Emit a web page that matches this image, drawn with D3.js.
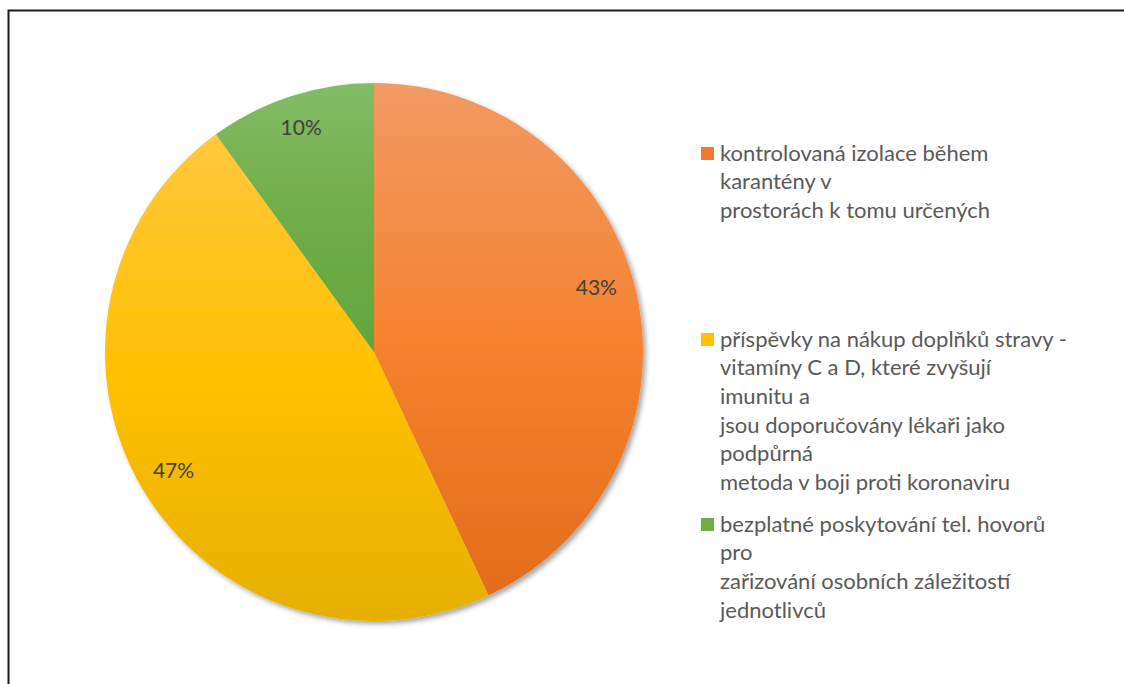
<!DOCTYPE html>
<html>
<head>
<meta charset="utf-8">
<script src="https://cdn.jsdelivr.net/npm/d3@7"></script>
<style>
  html, body { margin: 0; padding: 0; background: #fff; }
  svg { display: block; }
</style>
</head>
<body>
<svg id="chart" width="1124" height="684"></svg>
<script>
// ---------- data ----------
const categories = [
  "kontrolovaná izolace během\nkarantény v\nprostorách k tomu určených",
  "příspěvky na nákup doplňků stravy -\nvitamíny C a D, které zvyšují\nimunitu a\njsou doporučovány lékaři jako\npodpůrná\nmetoda v boji proti koronaviru",
  "bezplatné poskytování tel. hovorů\npro\nzařizování osobních záležitostí\njednotlivců"
];
const values = [43, 47, 10];
const labels = ["43%", "47%", "10%"];

// gradient stops per slice (top -> bottom)
const gradTop = ["#F29A64", "#FFC83D", "#82BC66"];
const gradMid = ["#F5822F", "#FFC000", "#70AD47"];
const gradBot = ["#E36C1A", "#E6B000", "#63A53C"];
const swatch = ["#F07B2E", "#FFC000", "#70AD47"];

const svg = d3.select("#chart");
const defs = svg.append("defs");

const shadow = defs.append("filter").attr("id", "shadow")
  .attr("x", "-10%").attr("y", "-10%").attr("width", "120%").attr("height", "120%");
shadow.append("feDropShadow")
  .attr("dx", 3).attr("dy", 3).attr("stdDeviation", 2.5)
  .attr("flood-color", "#000").attr("flood-opacity", 0.35);

values.forEach((v, i) => {
  const g = defs.append("linearGradient").attr("id", "grad" + i)
    .attr("x1", 0).attr("y1", 0).attr("x2", 0).attr("y2", 1);
  g.append("stop").attr("offset", "0%").attr("stop-color", gradTop[i]);
  g.append("stop").attr("offset", "50%").attr("stop-color", gradMid[i]);
  g.append("stop").attr("offset", "100%").attr("stop-color", gradBot[i]);
});

// frame (only top & left visible in the crop)
svg.append("path")
  .attr("d", "M8.5,700 L8.5,10.5 L1130,10.5")
  .attr("fill", "none")
  .attr("stroke", "#1a1a1a")
  .attr("stroke-width", 2);

// ---------- pie ----------
const cx = 374, cy = 352, r = 269;
const pie = d3.pie().sort(null).value(d => d);
const arcs = pie(values);
const arc = d3.arc().innerRadius(0).outerRadius(r);

const pieG = svg.append("g").attr("transform", `translate(${cx},${cy})`);
pieG.append("g").attr("filter", "url(#shadow)")
  .selectAll("path")
  .data(arcs)
  .enter()
  .append("path")
  .attr("d", arc)
  .attr("fill", (d, i) => `url(#grad${i})`);

// data labels (best-fit style, inside near the rim)
const labelR = [0.86, 0.866, 0.876];
const labelShift = [-0.06, 0, 0]; // small angular nudge, radians
pieG.selectAll("text.lbl")
  .data(arcs)
  .enter()
  .append("text")
  .attr("class", "lbl")
  .attr("transform", (d, i) => {
    const a = (d.startAngle + d.endAngle) / 2 + labelShift[i];
    const rr = r * labelR[i];
    return `translate(${rr * Math.sin(a)},${-rr * Math.cos(a)})`;
  })
  .attr("text-anchor", "middle")
  .attr("dy", "0.35em")
  .attr("font-family", "Lato, 'Open Sans', sans-serif")
  .attr("font-size", 21)
  .attr("fill", "#404040")
  .text((d, i) => labels[i]);

// ---------- legend ----------
const legendX = 701, lineH = 28.6;
const legendTop = [153, 339, 524];
const legend = svg.append("g");
categories.forEach((c, i) => {
  const g = legend.append("g");
  g.append("rect")
    .attr("x", legendX).attr("y", legendTop[i] - 6)
    .attr("width", 13).attr("height", 13)
    .attr("fill", swatch[i]);
  const t = g.append("text")
    .attr("font-family", "Lato, 'Open Sans', sans-serif")
    .attr("font-size", 22)
    .attr("fill", "#595959");
  c.split("\n").forEach((line, j) => {
    t.append("tspan")
      .attr("x", legendX + 19)
      .attr("y", legendTop[i] + j * lineH)
      .attr("dy", "0.35em")
      .text(line);
  });
});
</script>
</body>
</html>
